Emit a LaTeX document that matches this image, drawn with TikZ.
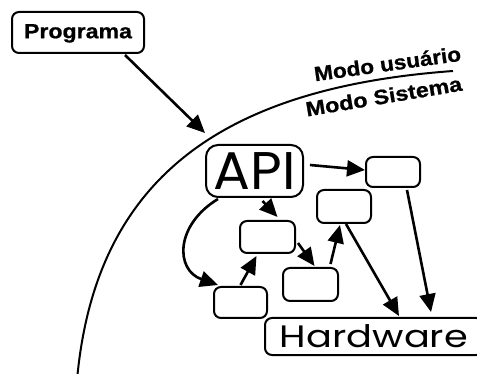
\documentclass[tikz,border=0pt]{standalone}
\usepackage{graphicx}
\usepackage{fontspec}
\setmainfont{Liberation Sans}
\newfontfamily\heavy{Liberation Sans}[FakeBold=0.8]
\newfontfamily\geo{Poppins}
\usetikzlibrary{arrows.meta}
\begin{document}
\begin{tikzpicture}[x=1pt,y=-1pt,
  box/.style={draw,line width=2pt,rounded corners=7pt,inner sep=0pt,text depth=0pt},
  arr/.style={line width=2.6pt,-{Triangle[length=18pt,width=16pt]}},
  boldlbl/.style={inner sep=0pt,anchor=base}]
\clip (0,0) rectangle (477,374);
\fill[white] (0,0) rectangle (477,374);
% boundary curve
\draw[line width=2pt] (77,380) .. controls (95,180) and (220,88) .. (453,71);
\node[boldlbl,rotate=8] (mu) at (388.5,71) {\resizebox{148pt}{\height}{\heavy\bfseries\fontsize{20.5}{20.5}\selectfont Modo usuário}};
\node[boldlbl,rotate=9.5] (ms) at (385,103.5) {\resizebox{158pt}{\height}{\heavy\bfseries\fontsize{20.5}{20.5}\selectfont Modo Sistema}};
% nodes
\node[box,text height=11.5pt,minimum width=132pt,minimum height=41pt] (prog) at (78,32.5) {\resizebox{108pt}{\height}{\heavy\bfseries\fontsize{20.5}{20.5}\selectfont Programa}};
\node[box,rounded corners=12pt,minimum width=97pt,minimum height=52pt] (api) at (254.5,171) {\resizebox{82pt}{\height}{\geo\fontsize{53}{53}\selectfont API}};
\node[box,minimum width=54pt,minimum height=30pt] (a) at (393,172) {};
\node[box,minimum width=54pt,minimum height=33pt] (b) at (344,206.5) {};
\node[box,minimum width=55pt,minimum height=32pt] (c) at (267.5,237) {};
\node[box,minimum width=55pt,minimum height=33pt] (d) at (310.5,284.5) {};
\node[box,minimum width=53pt,minimum height=31pt] (e) at (240.5,302.5) {};
\node[box,minimum width=218pt,minimum height=37pt] (hw) at (374,336.5) {\resizebox{188pt}{\height}{\geo\fontsize{31}{31}\selectfont Hardware}};
\coordinate (entry) at (205,133);
% connectors
\draw[arr] ([shift={(47,1)}]prog.south) -- (entry);
\draw[arr] ([shift={(6,-6)}]api.east) -- ([shift={(0,-2)}]a.west);
\draw[arr] ([shift={(8,3)}]api.south) -- ([shift={(10,-3)}]c.north);
\draw[arr] ([shift={(13,1)}]api.south west) .. controls (175,225) and (175,270) .. ([shift={(5,-1)}]e.north west);
\draw[arr] ([shift={(0,-1)}]e.north) -- ([shift={(-11,2)}]c.south);
\draw[arr] ([shift={(2,6)}]c.east) -- ([shift={(4,-1)}]d.north);
\draw[arr] ([shift={(20,-3)}]d.north) -- ([shift={(-4,1)}]b.south);
\draw[arr] ([shift={(2,0)}]b.south) -- ([shift={(25,-1)}]hw.north);
\draw[arr] ([shift={(14,2)}]a.south) -- ([shift={(57,-5)}]hw.north);
\end{tikzpicture}
\end{document}
